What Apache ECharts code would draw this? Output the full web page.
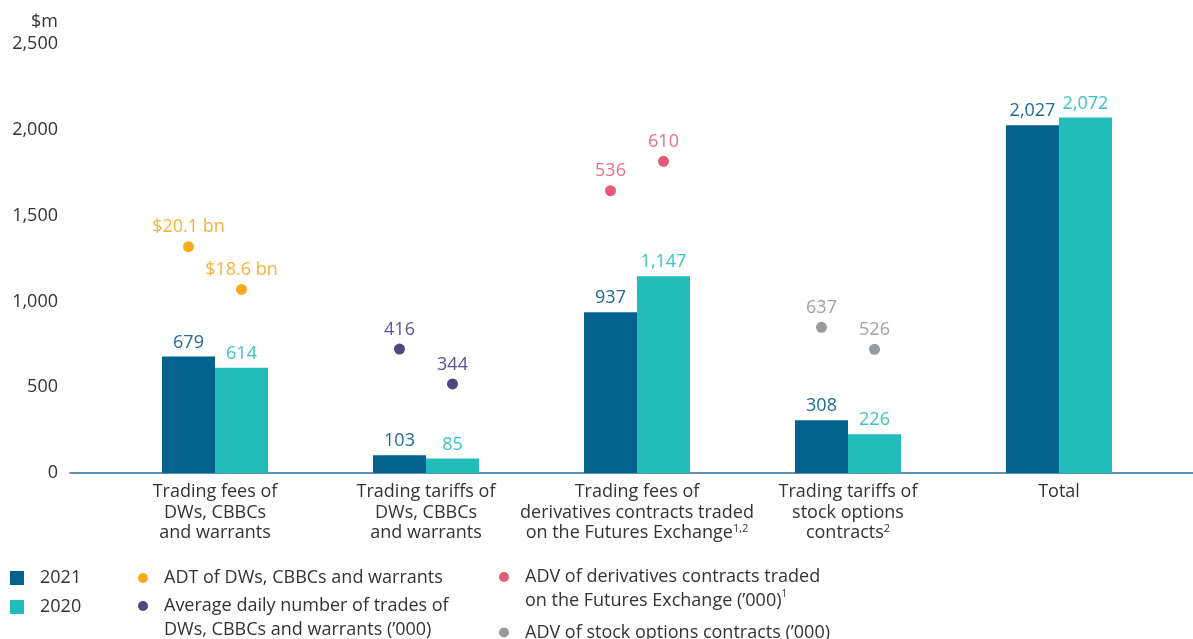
<!DOCTYPE html>
<html>
<head>
<meta charset="utf-8">
<script src="https://cdn.jsdelivr.net/npm/echarts@6/dist/echarts.min.js"></script>
<style>
    html, body { margin: 0; padding: 0; background: #fff; }
    #main { width: 1193px; height: 639px; }
</style>
</head>
<body>
<div id="main"></div>
<script type="text/javascript">
    // categories and revenue ($m)
    var categories = [
        'Trading fees of\nDWs, CBBCs\nand warrants',
        'Trading tariffs of\nDWs, CBBCs\nand warrants',
        'Trading fees of\nderivatives contracts traded\non the Futures Exchange{sup|1,2}',
        'Trading tariffs of\nstock options\ncontracts{sup|2}',
        'Total'
    ];
    var rev2021 = [679, 103, 937, 308, 2027];
    var rev2020 = [614, 85, 1147, 226, 2072];
    var yTicks = [0, 500, 1000, 1500, 2000, 2500];

    // dot indicators: [2021, 2020] label and height drawn on the $m scale
    var adtLabels = ['$20.1 bn', '$18.6 bn'];
    var adtPos = [1319, 1070];
    var tradesLabels = ['416', '344'];
    var tradesPos = [722, 519];
    var advDerivLabels = ['536', '610'];
    var advDerivPos = [1645, 1816];
    var advStockLabels = ['637', '526'];
    var advStockPos = [849, 721];

    var FONT = 'Open Sans';
    var FS = 18;
    var C2021 = '#04628E', C2020 = '#22BDBB';

    var fmt = function (v) { return Number(v).toLocaleString('en-US'); };

    var chart = echarts.init(document.getElementById('main'));

    // two scatter series per indicator (one per year), sharing a legend name
    function dotSeries(name, dotColor, textColor, catIdx, pos, labels) {
        var out = [];
        [0, 1].forEach(function (k) {
            var data = categories.map(function () { return '-'; });
            data[catIdx] = pos[k];
            out.push({
                type: 'scatter',
                name: name,
                xAxisIndex: 0,
                yAxisIndex: 0,
                data: data,
                symbol: 'circle',
                symbolSize: 11,
                symbolOffset: [k === 0 ? -26.5 : 26.5, 0],
                itemStyle: {color: dotColor, opacity: 1},
                z: 5,
                label: {
                    show: true,
                    position: 'top',
                    distance: 5,
                    color: textColor,
                    fontFamily: FONT,
                    fontSize: FS,
                    formatter: function () { return labels[k]; }
                }
            });
        });
        return out;
    }

    var N_ADT = 'ADT of DWs, CBBCs and warrants';
    var N_TRADES = 'Average daily number of trades of DWs, CBBCs and warrants (’000)';
    var N_DERIV = 'ADV of derivatives contracts traded on the Futures Exchange (’000)';
    var N_STOCK = 'ADV of stock options contracts (’000)';
    var legendText = {};
    legendText[N_ADT] = 'ADT of DWs, CBBCs and warrants';
    legendText[N_TRADES] = 'Average daily number of trades of\nDWs, CBBCs and warrants (’000)';
    legendText[N_DERIV] = 'ADV of derivatives contracts traded\non the Futures Exchange (’000){sup|1}';
    legendText[N_STOCK] = 'ADV of stock options contracts (’000)';

    function dotLegend(name, left, top, twoLines) {
        return {
            data: [name],
            left: left,
            top: top,
            padding: 0,
            orient: 'vertical',
            icon: 'circle',
            itemWidth: 10,
            itemHeight: 10,
            selectedMode: false,
            formatter: function (n) { return legendText[n]; },
            textStyle: {
                fontFamily: FONT,
                fontSize: FS,
                color: '#333',
                lineHeight: twoLines ? 24 : 10,
                padding: twoLines ? [24, 0, 0, 11] : [0, 0, 0, 11],
                rich: {
                    sup: {fontSize: 10, lineHeight: 12, verticalAlign: 'top', color: '#333', fontFamily: FONT}
                }
            }
        };
    }

    var series = [
        {
            type: 'bar',
            name: '2021',
            data: rev2021,
            barWidth: 53,
            barGap: '0%',
            itemStyle: {color: C2021},
            label: {show: true, position: 'top', distance: 5, color: '#1D6B96',
                fontFamily: FONT, fontSize: FS, formatter: function (p) { return fmt(p.value); }}
        },
        {
            type: 'bar',
            name: '2020',
            data: rev2020,
            barWidth: 53,
            barGap: '0%',
            itemStyle: {color: C2020},
            label: {show: true, position: 'top', distance: 5, color: '#3BC4C3',
                fontFamily: FONT, fontSize: FS, formatter: function (p) { return fmt(p.value); }}
        }
    ];
    series = series
        .concat(dotSeries(N_ADT, '#FAAB1C', '#F5B13A', 0, adtPos, adtLabels))
        .concat(dotSeries(N_TRADES, '#4E4780', '#5A5490', 1, tradesPos, tradesLabels))
        .concat(dotSeries(N_DERIV, '#E35A78', '#E66F89', 2, advDerivPos, advDerivLabels))
        .concat(dotSeries(N_STOCK, '#979A9E', '#9FA2A6', 3, advStockPos, advStockLabels));

    var option = {
        backgroundColor: '#fff',
        animation: false,
        textStyle: {fontFamily: FONT},
        grid: [
            {left: 109.5, right: 28.5, top: 44, height: 429},
            {left: 70, right: 0, top: 44, height: 429}
        ],
        xAxis: [
            {
                type: 'category',
                gridIndex: 0,
                data: categories,
                axisLine: {show: false},
                axisTick: {show: false},
                axisLabel: {
                    interval: 0,
                    margin: 9,
                    color: '#333',
                    fontFamily: FONT,
                    fontSize: FS,
                    lineHeight: 20.5,
                    rich: {
                        sup: {fontSize: 11, lineHeight: 12, verticalAlign: 'top', color: '#333', fontFamily: FONT}
                    }
                }
            },
            {
                type: 'value',
                gridIndex: 1,
                min: 0,
                max: 1,
                axisLine: {show: true, onZero: false, lineStyle: {color: '#2A6D97', width: 1.5}},
                axisTick: {show: false},
                axisLabel: {show: false},
                splitLine: {show: false}
            }
        ],
        yAxis: [
            {
                type: 'value',
                gridIndex: 0,
                min: yTicks[0],
                max: yTicks[yTicks.length - 1],
                interval: 500,
                show: false,
                splitLine: {show: false}
            },
            {
                type: 'value',
                gridIndex: 1,
                min: yTicks[0],
                max: yTicks[yTicks.length - 1],
                interval: 500,
                name: '$m',
                nameLocation: 'end',
                nameGap: 13,
                nameTextStyle: {align: 'right', padding: [0, 12, 0, 0], color: '#333', fontFamily: FONT, fontSize: FS},
                axisLine: {show: false},
                axisTick: {show: false},
                splitLine: {show: false},
                axisLabel: {margin: 12, color: '#333', fontFamily: FONT, fontSize: FS, formatter: fmt}
            }
        ],
        legend: [
            {
                data: ['2021', '2020'],
                left: 10,
                top: 569,
                padding: 0,
                orient: 'vertical',
                icon: 'rect',
                itemWidth: 14,
                itemHeight: 14,
                itemGap: 11,
                selectedMode: false,
                textStyle: {fontFamily: FONT, fontSize: FS, color: '#333', lineHeight: 14, padding: [0, 0, 0, 11]}
            },
            dotLegend(N_ADT, 138, 569, false),
            dotLegend(N_TRADES, 138, 570, true),
            dotLegend(N_DERIV, 499, 541, true),
            dotLegend(N_STOCK, 499, 623.5, false)
        ],
        series: series
    };

    chart.setOption(option);
</script>
</body>
</html>
